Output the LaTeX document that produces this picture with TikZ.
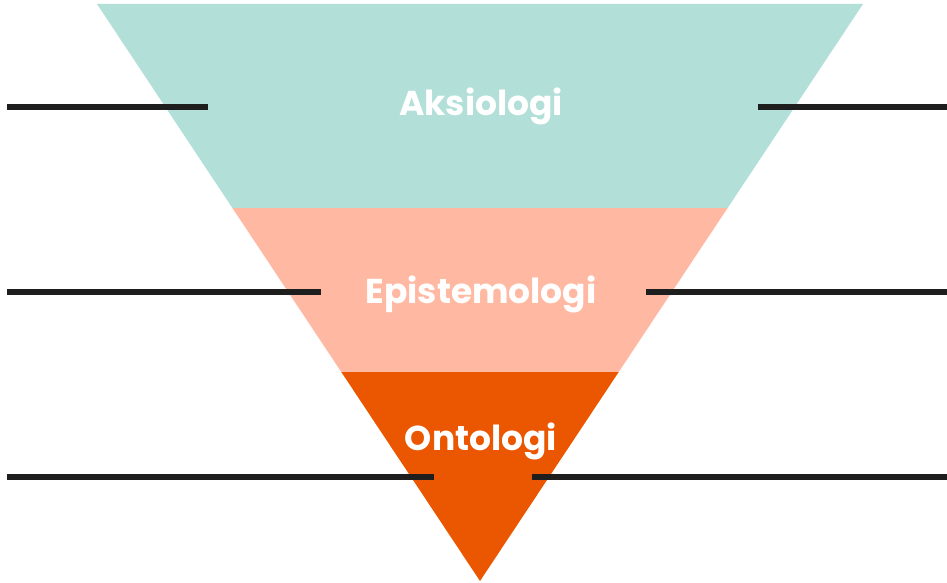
\documentclass[tikz,border=0pt]{standalone}
\usepackage{fontspec}
\setmainfont{Poppins}
\definecolor{teal}{HTML}{B2DFD8}
\definecolor{salmon}{HTML}{FFB9A2}
\definecolor{orng}{HTML}{EB5600}
\definecolor{linec}{HTML}{1E1E1E}
\begin{document}
\begin{tikzpicture}[x=1pt,y=-1pt,
  band/.style={draw=none},
  label/.style={text=white,font=\bfseries\fontsize{34.5}{38}\selectfont,anchor=base,inner sep=0pt},
  tick/.style={draw=linec,line width=6pt}]
\useasboundingbox (0,0) rectangle (947,583);
\fill[teal] (97,4) -- (863,4) -- (727.6,208) -- (232.4,208) -- cycle;
\fill[salmon] (232.4,208) -- (727.6,208) -- (618.7,372) -- (341.3,372) -- cycle;
\fill[orng] (341.3,372) -- (618.7,372) -- (480,581) -- cycle;
\node[label] (aks) at (481,116) {Aksiologi};
\node[label] (epi) at (481,303) {Epistemologi};
\node[label] (ont) at (481,450) {Ontologi};
\coordinate (l1a) at (7,107); \coordinate (l1b) at (208,107);
\coordinate (r1a) at (758,107); \coordinate (r1b) at (947,107);
\coordinate (l2a) at (7,292); \coordinate (l2b) at (321,292);
\coordinate (r2a) at (646,292); \coordinate (r2b) at (947,292);
\coordinate (l3a) at (7,477); \coordinate (l3b) at (434,477);
\coordinate (r3a) at (532,477); \coordinate (r3b) at (947,477);
\draw[tick] (l1a) -- (l1b);
\draw[tick] (r1a) -- (r1b);
\draw[tick] (l2a) -- (l2b);
\draw[tick] (r2a) -- (r2b);
\draw[tick] (l3a) -- (l3b);
\draw[tick] (r3a) -- (r3b);
\end{tikzpicture}
\end{document}
